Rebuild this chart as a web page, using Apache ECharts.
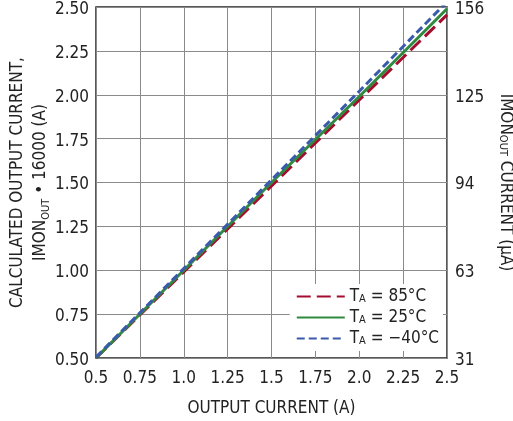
<!DOCTYPE html>
<html><head><meta charset="utf-8">
<script src="https://cdn.jsdelivr.net/npm/echarts@6/dist/echarts.min.js"></script>
<style>html,body{margin:0;padding:0;background:#fff}#c{width:513px;height:421px}</style>
</head><body><div id="c"></div>
<script>
var outputCurrent = [0.5, 1.0, 1.5, 2.0, 2.5];
var t85 = [0.50, 0.99, 1.48, 1.97, 2.455];
var t25 = [0.50, 1.00, 1.50, 1.99, 2.49];
var tm40 = [0.505, 1.01, 1.515, 2.02, 2.53];
var xTickLabels = ['0.5','0.75','1.0','1.25','1.5','1.75','2.0','2.25','2.5'];
var yTickLabels = ['0.50','0.75','1.00','1.25','1.50','1.75','2.00','2.25','2.50'];
var rightTickLabels = ['31','63','94','125','156'];
var seriesNames = ['85', '25', '\u221240'];

var FONT = "'Liberation Sans Narrow','DejaVu Sans Condensed',sans-serif";
function pairs(ys){ return outputCurrent.map(function(x,i){return [x, ys[i]];}); }
var chart = echarts.init(document.getElementById('c'), null, {renderer:'canvas'});
var txt = {fontFamily: FONT, fontSize: 17, color: '#222'};
var subStyle = {fontFamily: FONT, fontSize: 11, color: '#222', verticalAlign: 'bottom', lineHeight: 17};
var lowStyle = {fontFamily: FONT, fontSize: 17, color: '#222', padding: [5, 0, 0, 0]};
chart.setOption({
  animation: false,
  grid: {left: 96, right: 66, top: 7, bottom: 63, outerBoundsMode: 'none', containLabel: false, show: true, borderColor: '#222', borderWidth: 1.5, backgroundColor: 'transparent'},
  xAxis: {
    type: 'value', min: 0.5, max: 2.5, interval: 0.25,
    axisLine: {show: false}, axisTick: {show: false},
    splitLine: {show: true, lineStyle: {color: '#8a8a8a', width: 1}},
    axisLabel: Object.assign({margin: 12, formatter: function(v){return xTickLabels[Math.round((v-0.5)/0.25)];}}, txt),
    name: 'OUTPUT CURRENT (A)', nameLocation: 'middle', nameGap: 42,
    nameTextStyle: txt
  },
  yAxis: [{
    type: 'value', min: 0.5, max: 2.5, interval: 0.25,
    axisLine: {show: false}, axisTick: {show: false},
    splitLine: {show: true, lineStyle: {color: '#8a8a8a', width: 1}},
    axisLabel: Object.assign({margin: 7, rich: {lo: lowStyle}, formatter: function(v){return '{lo|' + yTickLabels[Math.round((v-0.5)/0.25)] + '}';}}, txt),
    name: 'CALCULATED OUTPUT CURRENT,\nIMON{sub|OUT} \u2022 16000 (A)', nameLocation: 'middle', nameRotate: 90, nameGap: 44,
    nameMoveOverlap: false,
    nameTextStyle: Object.assign({align: 'center', lineHeight: 23, rich: {sub: subStyle}}, txt)
  },{
    type: 'value', min: 31.25, max: 156.25, interval: 31.25, position: 'right',
    axisLine: {show: false}, axisTick: {show: false}, splitLine: {show: false},
    axisLabel: Object.assign({margin: 8, rich: {lo: lowStyle}, formatter: function(v){return '{lo|' + rightTickLabels[Math.round((v-31.25)/31.25)] + '}';}}, txt),
    name: 'IMON{sub|OUT} CURRENT (\u00b5A)', nameLocation: 'middle', nameRotate: -90, nameGap: 50,
    nameTextStyle: Object.assign({rich: {sub: subStyle}}, txt)
  }],
  legend: {
    orient: 'vertical', right: 70, bottom: 70, itemWidth: 48, itemHeight: 10, itemGap: 4,
    backgroundColor: '#fff', padding: [4, 4, 4, 6],
    itemStyle: {opacity: 0},
    data: seriesNames,
    formatter: function(n){ return 'T{sub|A} = ' + n + '\u00b0C'; },
    textStyle: Object.assign({rich: {sub: subStyle}}, txt)
  },
  series: [
    {name: seriesNames[0], type: 'line', data: pairs(t85), symbol: 'none', clip: true, z: 3,
     lineStyle: {color: '#a50d2e', width: 3, type: [14, 6]}, itemStyle: {color: '#a50d2e'}},
    {name: seriesNames[1], type: 'line', data: pairs(t25), symbol: 'none', clip: true, z: 4,
     lineStyle: {color: '#2f8a3f', width: 3, type: 'solid'}, itemStyle: {color: '#2f8a3f'}},
    {name: seriesNames[2], type: 'line', data: pairs(tm40), symbol: 'none', clip: true, z: 5,
     lineStyle: {color: '#3a5aab', width: 3, type: [8, 4]}, itemStyle: {color: '#3a5aab'}}
  ]
});
</script></body></html>
